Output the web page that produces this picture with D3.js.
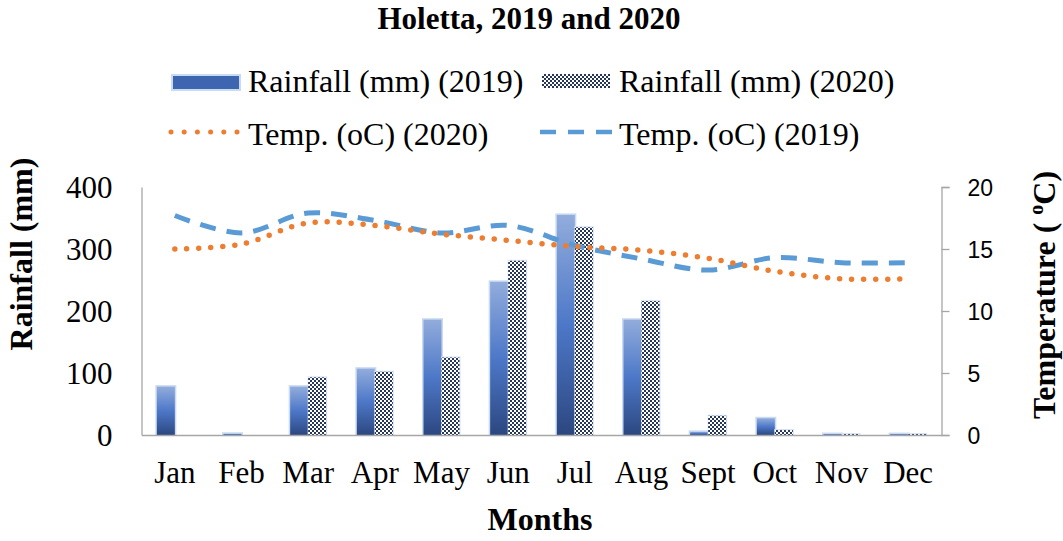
<!DOCTYPE html>
<html><head><meta charset="utf-8">
<script src="https://cdn.jsdelivr.net/npm/d3@7"></script>
<style>body{margin:0;background:#fff}svg{display:block}</style>
</head><body>
<svg id="c" width="1063" height="541"></svg>
<script>
const months = ["Jan","Feb","Mar","Apr","May","Jun","Jul","Aug","Sept","Oct","Nov","Dec"];
const rain2019 = [78, 2, 78, 107, 186, 247, 355, 186, 5, 27, 1.5, 1.5];
const rain2020 = [0, 0, 93, 102, 125, 281, 335, 216, 31, 8, 1.5, 1.5];
const temp2019 = [17.7, 16.3, 17.9, 17.3, 16.3, 16.9, 15.3, 14.2, 13.3, 14.3, 13.9, 13.9];
const temp2020 = [15.0, 15.4, 17.1, 16.9, 16.2, 15.7, 15.2, 14.9, 14.25, 13.2, 12.6, 12.6];
const rainTicks = [0, 100, 200, 300, 400];
const tempTicks = [0, 5, 10, 15, 20];

const svg = d3.select("#c");
const serif = "'Liberation Serif','Times New Roman',serif";
const sans = "'Liberation Sans',Arial,sans-serif";
const L = 141.5, R = 941.5, T = 187, B = 435;

const defs = svg.append("defs");
const g1 = defs.append("linearGradient").attr("id","g19").attr("x1",0).attr("y1",0).attr("x2",0).attr("y2",1);
g1.append("stop").attr("offset","0%").attr("stop-color","#92acdc");
g1.append("stop").attr("offset","50%").attr("stop-color","#4d78c8");
g1.append("stop").attr("offset","100%").attr("stop-color","#2c4780");
const pat = defs.append("pattern").attr("id","chk").attr("patternUnits","userSpaceOnUse").attr("width",4).attr("height",4);
pat.append("rect").attr("width",4).attr("height",4).attr("fill","#27375a");
pat.append("rect").attr("x",0).attr("y",0).attr("width",2).attr("height",2).attr("fill","#ffffff");
pat.append("rect").attr("x",2).attr("y",2).attr("width",2).attr("height",2).attr("fill","#ffffff");

const x = d3.scaleBand().domain(months).range([L, R]).paddingInner(0.46).paddingOuter(0.23);
const sub = d3.scaleBand().domain(["2019","2020"]).range([0, x.bandwidth()]);
const yL = d3.scaleLinear().domain([0, 400]).range([B, T]);
const yR = d3.scaleLinear().domain([0, 20]).range([B, T]);

// Title
svg.append("text").attr("x", 529).attr("y", 29).attr("text-anchor","middle")
  .attr("font-family", serif).attr("font-weight","bold").attr("font-size", 31).text("Holetta, 2019 and 2020");

// Bars
const bars = svg.append("g");
months.forEach((m, i) => {
  const xs = x(m);
  const w = sub.bandwidth();
  const v1 = rain2019[i], v2 = rain2020[i];
  if (v1 > 0) {
    bars.append("rect").attr("x", xs + sub("2019") - 1.5).attr("y", yL(v1) - 1.5)
      .attr("width", w + 3).attr("height", B - yL(v1) + 1.5).attr("fill", "#c9dbf2");
    bars.append("rect").attr("x", xs + sub("2019")).attr("y", yL(v1))
      .attr("width", w).attr("height", B - yL(v1)).attr("fill", "url(#g19)");
  }
  if (v2 > 0) {
    bars.append("rect").attr("x", xs + sub("2020") - 0.5).attr("y", yL(v2) - 1)
      .attr("width", w + 1.5).attr("height", B - yL(v2) + 1).attr("fill", "#d5e2f3");
    bars.append("rect").attr("x", xs + sub("2020")).attr("y", yL(v2))
      .attr("width", w).attr("height", B - yL(v2)).attr("fill", "url(#chk)");
  }
});

// Axes
const axL = svg.append("g").attr("transform", `translate(${L},0)`)
  .call(d3.axisLeft(yL).tickValues(rainTicks).tickSize(0).tickPadding(29));
axL.attr("font-family", serif);
axL.select(".domain").attr("stroke","#a6a6a6").attr("stroke-width",1.3);
axL.selectAll("text").attr("font-family", serif).attr("font-size", 31).attr("fill","#000").attr("dy","0.34em");

const axR = svg.append("g").attr("transform", `translate(${R},0)`)
  .call(d3.axisRight(yR).tickValues(tempTicks).tickSize(8).tickPadding(18));
axR.attr("font-family", sans);
axR.select(".domain").attr("stroke","#a6a6a6").attr("stroke-width",1.3);
axR.selectAll("line").attr("stroke","#a6a6a6").attr("stroke-width",1.3);
axR.selectAll("text").attr("font-family", sans).attr("font-size", 23).attr("fill","#000").attr("dy","0.36em");

const axB = svg.append("g").attr("transform", `translate(0,${B})`)
  .call(d3.axisBottom(x).tickSize(0).tickPadding(26));
axB.attr("font-family", serif);
axB.select(".domain").attr("stroke","#a6a6a6").attr("stroke-width",1.3);
axB.selectAll("text").attr("font-family", serif).attr("font-size", 31).attr("fill","#000").attr("dy","0.71em");

// Lines
const cx = (d, i) => x(months[i]) + x.bandwidth() / 2;
const line2020 = d3.line().x(cx).y(d => yR(d)).curve(d3.curveCatmullRom.alpha(0.5));
const line2019 = d3.line().x(cx).y(d => yR(d)).curve(d3.curveCatmullRom.alpha(0.5));
svg.append("path").datum(temp2019).attr("d", line2019).attr("fill","none")
  .attr("stroke","#5b9bd5").attr("stroke-width",5).attr("stroke-dasharray","16,11");
svg.append("path").datum(temp2020).attr("d", line2020).attr("fill","none")
  .attr("stroke","#ed7d31").attr("stroke-width",5.5).attr("stroke-linecap","round").attr("stroke-dasharray","0,12");

// Axis titles
svg.append("text").attr("transform","translate(32,254) rotate(-90)").attr("text-anchor","middle")
  .attr("font-family", serif).attr("font-weight","bold").attr("font-size", 32).text("Rainfall (mm)");
const rt = svg.append("text").attr("transform","translate(1055,295) rotate(-90)").attr("text-anchor","middle")
  .attr("font-family", serif).attr("font-weight","bold").attr("font-size", 32);
rt.append("tspan").text("Temperature ( ");
rt.append("tspan").attr("font-size", 20).attr("dy", -12).text("o");
rt.append("tspan").attr("dy", 12).text("C)");
svg.append("text").attr("x", 540).attr("y", 530).attr("text-anchor","middle")
  .attr("font-family", serif).attr("font-weight","bold").attr("font-size", 32).text("Months");

// Legend
const lg = svg.append("g");
lg.append("rect").attr("x", 171).attr("y", 74).attr("width", 70).attr("height", 17).attr("fill", "#c9dbf2");
lg.append("rect").attr("x", 173).attr("y", 76).attr("width", 66).attr("height", 13).attr("fill", "#3e66b0");
lg.append("text").attr("x", 248).attr("y", 92).attr("font-family", serif).attr("font-size", 32).text("Rainfall (mm) (2019)");
lg.append("rect").attr("x", 542).attr("y", 74).attr("width", 68).attr("height", 14).attr("fill", "url(#chk)");
lg.append("text").attr("x", 619).attr("y", 92).attr("font-family", serif).attr("font-size", 32).text("Rainfall (mm) (2020)");
lg.append("line").attr("x1", 171).attr("x2", 237).attr("y1", 132).attr("y2", 132)
  .attr("stroke","#ed7d31").attr("stroke-width",5).attr("stroke-linecap","round").attr("stroke-dasharray","0,13.2");
lg.append("text").attr("x", 248).attr("y", 145).attr("font-family", serif).attr("font-size", 32).text("Temp. (oC) (2020)");
lg.append("line").attr("x1", 540).attr("x2", 612).attr("y1", 132).attr("y2", 132)
  .attr("stroke","#5b9bd5").attr("stroke-width",4.5).attr("stroke-dasharray","16,12");
lg.append("text").attr("x", 619).attr("y", 145).attr("font-family", serif).attr("font-size", 32).text("Temp. (oC) (2019)");
</script>
</body></html>
